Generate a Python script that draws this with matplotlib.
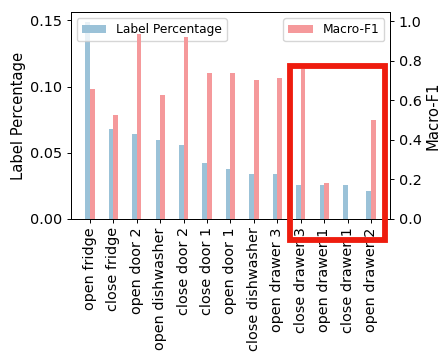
import numpy as np
import matplotlib
matplotlib.use("Agg")
import matplotlib.pyplot as plt
from matplotlib.patches import Rectangle

# Data
actions = ["open fridge", "close fridge", "open door 2", "open dishwasher",
           "close door 2", "close door 1", "open door 1", "close dishwasher",
           "open drawer 3", "close drawer 3", "open drawer 1", "close drawer 1",
           "open drawer 2"]
label_pct = [0.149, 0.068, 0.064, 0.0595, 0.0555, 0.042, 0.038, 0.034,
             0.034, 0.0255, 0.0255, 0.0255, 0.021]
macro_f1 = [0.655, 0.527, 0.934, 0.626, 0.921, 0.736, 0.736, 0.705,
            0.714, 0.756, 0.182, 0.0, 0.50]

x = np.arange(len(actions))
width = 0.2

fig = plt.figure(figsize=(4.43, 3.57), dpi=100)
ax = fig.add_axes([0.1596, 0.3866, 0.7214, 0.5789])
ax2 = ax.twinx()

ax.bar(x - width / 2, label_pct, width, color="#9bc2d8", label="Label Percentage")
ax2.bar(x + width / 2, macro_f1, width, color="#f5999b", label="Macro-F1")

ax.set_xlim(-0.82, 12.82)
ax.set_ylim(0, 0.156)
ax2.set_ylim(0, 1.045)
ax.set_yticks([0.0, 0.05, 0.10, 0.15])
ax.set_yticklabels(["0.00", "0.05", "0.10", "0.15"])
ax2.set_yticks([0.0, 0.2, 0.4, 0.6, 0.8, 1.0])

ax.set_xticks(x)
ax.set_xticklabels(actions, rotation=90)
for a in (ax, ax2):
    a.tick_params(labelsize=10.4, length=3, pad=3, width=0.7)
    for s in a.spines.values():
        s.set_linewidth(0.7)
ax.set_ylabel("Label Percentage", fontsize=10.6, labelpad=3)
ax2.set_ylabel("Macro-F1", fontsize=10.6, labelpad=3)

ax.legend(loc="upper left", fontsize=8.8)
ax2.legend(loc="upper right", fontsize=8.8)

# highlight box around the rare classes
box = Rectangle((0.686, -0.104), 0.299, 0.844, transform=ax.transAxes,
                fill=False, edgecolor="#ee1c0e", linewidth=4.2, clip_on=False,
                zorder=10)
ax2.add_patch(box)

fig.savefig("out.png", dpi=100)
